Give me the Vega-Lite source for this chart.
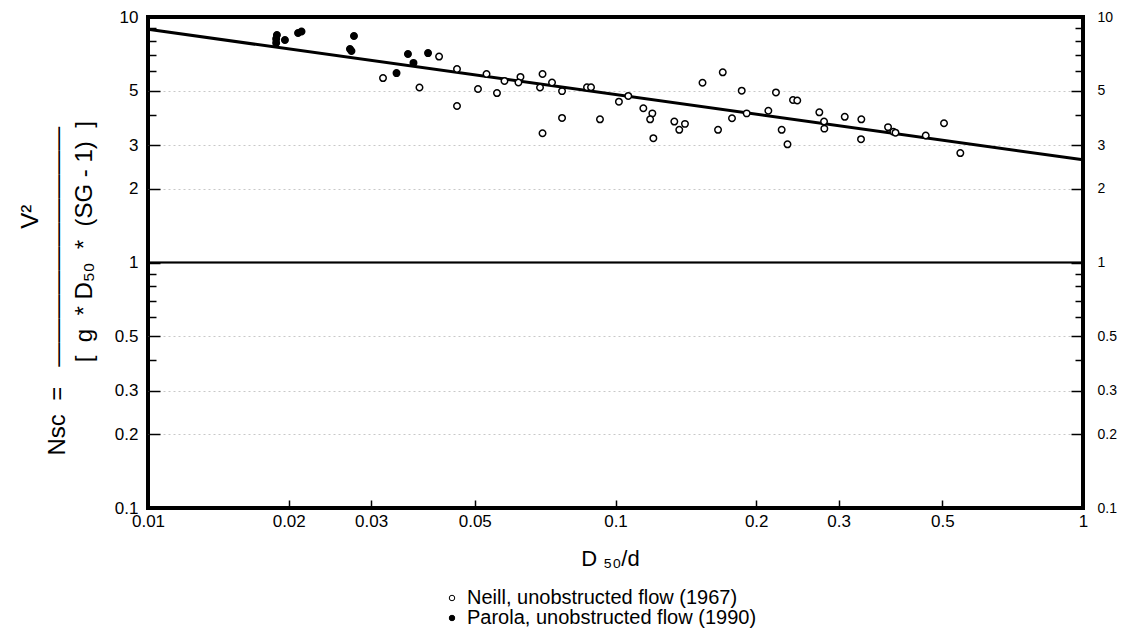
{
  "$schema": "https://vega.github.io/schema/vega-lite/v6.json",
  "autosize": {"type": "none"},
  "padding": {"left": 148, "top": 17, "right": 40, "bottom": 124},
  "width": 935,
  "height": 491,
  "background": "white",
  "config": {
    "view": {"stroke": "black", "strokeWidth": 4},
    "font": "Liberation Sans",
    "axis": {"labelFont": "Liberation Sans", "titleFont": "Liberation Sans", "labelColor": "black", "titleColor": "black", "tickColor": "black", "labelFontSize": 16, "titleFontWeight": "normal", "labelFlush": false}
  },
  "datasets": {
    "pts": [
      {"x": 0.01887, "y": 8.45, "src": "Parola, unobstructed flow (1990)"},
      {"x": 0.0188, "y": 8.14, "src": "Parola, unobstructed flow (1990)"},
      {"x": 0.0188, "y": 7.84, "src": "Parola, unobstructed flow (1990)"},
      {"x": 0.01963, "y": 8.06, "src": "Parola, unobstructed flow (1990)"},
      {"x": 0.02094, "y": 8.61, "src": "Parola, unobstructed flow (1990)"},
      {"x": 0.0213, "y": 8.73, "src": "Parola, unobstructed flow (1990)"},
      {"x": 0.02758, "y": 8.37, "src": "Parola, unobstructed flow (1990)"},
      {"x": 0.02704, "y": 7.41, "src": "Parola, unobstructed flow (1990)"},
      {"x": 0.02724, "y": 7.27, "src": "Parola, unobstructed flow (1990)"},
      {"x": 0.03401, "y": 5.91, "src": "Parola, unobstructed flow (1990)"},
      {"x": 0.03598, "y": 7.07, "src": "Parola, unobstructed flow (1990)"},
      {"x": 0.03697, "y": 6.5, "src": "Parola, unobstructed flow (1990)"},
      {"x": 0.03972, "y": 7.13, "src": "Parola, unobstructed flow (1990)"},
      {"x": 0.03182, "y": 5.64, "src": "Neill, unobstructed flow (1967)"},
      {"x": 0.03808, "y": 5.16, "src": "Neill, unobstructed flow (1967)"},
      {"x": 0.04194, "y": 6.9, "src": "Neill, unobstructed flow (1967)"},
      {"x": 0.04581, "y": 6.14, "src": "Neill, unobstructed flow (1967)"},
      {"x": 0.04581, "y": 4.34, "src": "Neill, unobstructed flow (1967)"},
      {"x": 0.0508, "y": 5.09, "src": "Neill, unobstructed flow (1967)"},
      {"x": 0.05298, "y": 5.86, "src": "Neill, unobstructed flow (1967)"},
      {"x": 0.05578, "y": 4.9, "src": "Neill, unobstructed flow (1967)"},
      {"x": 0.05788, "y": 5.49, "src": "Neill, unobstructed flow (1967)"},
      {"x": 0.06262, "y": 5.7, "src": "Neill, unobstructed flow (1967)"},
      {"x": 0.062, "y": 5.41, "src": "Neill, unobstructed flow (1967)"},
      {"x": 0.06981, "y": 5.86, "src": "Neill, unobstructed flow (1967)"},
      {"x": 0.06895, "y": 5.16, "src": "Neill, unobstructed flow (1967)"},
      {"x": 0.06981, "y": 3.36, "src": "Neill, unobstructed flow (1967)"},
      {"x": 0.07315, "y": 5.41, "src": "Neill, unobstructed flow (1967)"},
      {"x": 0.07685, "y": 4.99, "src": "Neill, unobstructed flow (1967)"},
      {"x": 0.07685, "y": 3.88, "src": "Neill, unobstructed flow (1967)"},
      {"x": 0.0869, "y": 5.17, "src": "Neill, unobstructed flow (1967)"},
      {"x": 0.08864, "y": 5.17, "src": "Neill, unobstructed flow (1967)"},
      {"x": 0.09264, "y": 3.83, "src": "Neill, unobstructed flow (1967)"},
      {"x": 0.1017, "y": 4.52, "src": "Neill, unobstructed flow (1967)"},
      {"x": 0.1065, "y": 4.77, "src": "Neill, unobstructed flow (1967)"},
      {"x": 0.1147, "y": 4.25, "src": "Neill, unobstructed flow (1967)"},
      {"x": 0.1199, "y": 4.05, "src": "Neill, unobstructed flow (1967)"},
      {"x": 0.1186, "y": 3.83, "src": "Neill, unobstructed flow (1967)"},
      {"x": 0.1205, "y": 3.21, "src": "Neill, unobstructed flow (1967)"},
      {"x": 0.1336, "y": 3.75, "src": "Neill, unobstructed flow (1967)"},
      {"x": 0.1369, "y": 3.47, "src": "Neill, unobstructed flow (1967)"},
      {"x": 0.1408, "y": 3.67, "src": "Neill, unobstructed flow (1967)"},
      {"x": 0.1535, "y": 5.4, "src": "Neill, unobstructed flow (1967)"},
      {"x": 0.1696, "y": 5.95, "src": "Neill, unobstructed flow (1967)"},
      {"x": 0.1657, "y": 3.47, "src": "Neill, unobstructed flow (1967)"},
      {"x": 0.1775, "y": 3.87, "src": "Neill, unobstructed flow (1967)"},
      {"x": 0.1862, "y": 5.01, "src": "Neill, unobstructed flow (1967)"},
      {"x": 0.1908, "y": 4.05, "src": "Neill, unobstructed flow (1967)"},
      {"x": 0.2123, "y": 4.15, "src": "Neill, unobstructed flow (1967)"},
      {"x": 0.2204, "y": 4.93, "src": "Neill, unobstructed flow (1967)"},
      {"x": 0.2267, "y": 3.47, "src": "Neill, unobstructed flow (1967)"},
      {"x": 0.2333, "y": 3.03, "src": "Neill, unobstructed flow (1967)"},
      {"x": 0.2397, "y": 4.59, "src": "Neill, unobstructed flow (1967)"},
      {"x": 0.2448, "y": 4.57, "src": "Neill, unobstructed flow (1967)"},
      {"x": 0.2729, "y": 4.09, "src": "Neill, unobstructed flow (1967)"},
      {"x": 0.2793, "y": 3.75, "src": "Neill, unobstructed flow (1967)"},
      {"x": 0.2797, "y": 3.51, "src": "Neill, unobstructed flow (1967)"},
      {"x": 0.3093, "y": 3.92, "src": "Neill, unobstructed flow (1967)"},
      {"x": 0.3356, "y": 3.83, "src": "Neill, unobstructed flow (1967)"},
      {"x": 0.3351, "y": 3.18, "src": "Neill, unobstructed flow (1967)"},
      {"x": 0.3828, "y": 3.56, "src": "Neill, unobstructed flow (1967)"},
      {"x": 0.3929, "y": 3.41, "src": "Neill, unobstructed flow (1967)"},
      {"x": 0.3971, "y": 3.38, "src": "Neill, unobstructed flow (1967)"},
      {"x": 0.4609, "y": 3.29, "src": "Neill, unobstructed flow (1967)"},
      {"x": 0.5043, "y": 3.69, "src": "Neill, unobstructed flow (1967)"},
      {"x": 0.5465, "y": 2.79, "src": "Neill, unobstructed flow (1967)"}
    ],
    "fit": [{"x": 0.01, "y": 8.91}, {"x": 1, "y": 2.62}],
    "one": [{"y": 1}]
  },
  "layer": [
    {
      "data": {"name": "one"},
      "mark": {"type": "rule", "stroke": "black", "strokeWidth": 1.5},
      "encoding": {
        "y": {"field": "y", "type": "quantitative", "scale": {"type": "log", "domain": [0.1, 10]},
          "axis": {"orient": "left", "values": [0.2, 0.3, 0.5, 2, 3, 5], "grid": true, "gridColor": "#c8c8c8", "gridDash": [2, 3], "gridWidth": 1, "ticks": false, "labels": false, "domain": false, "title": null}}
      }
    },
    {
      "data": {"name": "one"},
      "mark": {"type": "rule", "stroke": "black", "strokeWidth": 1.5},
      "encoding": {
        "y": {"field": "y", "type": "quantitative", "scale": {"type": "log", "domain": [0.1, 10]},
          "axis": {"orient": "left", "values": [0.4, 0.6, 0.7, 0.8, 0.9, 4, 6, 7, 8, 9], "grid": false, "ticks": true, "tickSize": -8, "tickWidth": 1.5, "labels": false, "domain": false, "title": null}}
      }
    },
    {
      "data": {"name": "one"},
      "mark": {"type": "rule", "stroke": "black", "strokeWidth": 1.5},
      "encoding": {
        "y": {"field": "y", "type": "quantitative", "scale": {"type": "log", "domain": [0.1, 10]},
          "axis": {"orient": "right", "values": [0.4, 0.6, 0.7, 0.8, 0.9, 4, 6, 7, 8, 9], "grid": false, "ticks": true, "tickSize": -8, "tickWidth": 1.5, "labels": false, "domain": false, "title": null}}
      }
    },
    {
      "data": {"name": "fit"},
      "mark": {"type": "line", "stroke": "black", "strokeWidth": 3},
      "encoding": {
        "x": {"field": "x", "type": "quantitative", "scale": {"type": "log", "domain": [0.01, 1]},
          "axis": {"orient": "bottom", "values": [0.01, 0.02, 0.03, 0.05, 0.1, 0.2, 0.3, 0.5, 1], "format": "~g", "grid": false, "tickSize": -8, "tickWidth": 1.5, "labelPadding": 13, "labelFontSize": 17, "labelFlush": false, "domain": false,
            "title": "D \u2085\u2080/d", "titleFontSize": 22, "titleX": 462, "titleY": 57, "titleAlign": "center", "titleBaseline": "alphabetic"}},
        "y": {"field": "y", "type": "quantitative", "scale": {"type": "log", "domain": [0.1, 10]},
          "axis": {"orient": "right", "values": [0.1, 0.2, 0.3, 0.5, 1, 2, 3, 5, 10], "format": "~g", "grid": false, "tickSize": -12, "tickWidth": 1.5, "labelPadding": 26, "labelFontSize": 14, "labelFlush": false, "domain": false, "title": null}}
      }
    },
    {
      "data": {"name": "pts"},
      "mark": {"type": "point", "shape": "circle", "size": 42, "stroke": "black", "strokeWidth": 1.5, "opacity": 1},
      "encoding": {
        "x": {"field": "x", "type": "quantitative", "scale": {"type": "log", "domain": [0.01, 1]},
          "axis": {"orient": "bottom", "values": [0.01, 0.02, 0.03, 0.05, 0.1, 0.2, 0.3, 0.5, 1], "format": "~g", "grid": false, "tickSize": -8, "tickWidth": 1.5, "labelPadding": 13, "labelFontSize": 17, "labelFlush": false, "domain": false,
            "title": "D \u2085\u2080/d", "titleFontSize": 22, "titleX": 462, "titleY": 57, "titleAlign": "center", "titleBaseline": "alphabetic"}},
        "y": {"field": "y", "type": "quantitative", "scale": {"type": "log", "domain": [0.1, 10]},
          "axis": {"orient": "left", "values": [0.1, 0.2, 0.3, 0.5, 1, 2, 3, 5, 10], "format": "~g", "grid": false, "tickSize": -12, "tickWidth": 1.5, "labelPadding": 22, "labelFontSize": 17, "labelFlush": false, "domain": false,
            "title": [
              "\u200b\u00a0\u00a0\u00a0\u00a0\u00a0\u00a0\u00a0\u00a0\u00a0\u00a0\u00a0\u00a0\u00a0\u00a0\u00a0\u00a0\u00a0\u00a0\u00a0\u00a0\u00a0\u00a0\u00a0\u00a0\u00a0\u00a0\u00a0\u00a0\u00a0\u00a0\u00a0\u00a0\u00a0\u00a0V\u00b2",
              "Nsc\u00a0\u00a0=\u00a0\u00a0\u00a0\u2014\u2014\u2014\u2014\u2014\u2014\u2014\u2014\u2014\u2014",
              "\u200b\u00a0\u00a0\u00a0\u00a0\u00a0\u00a0\u00a0\u00a0\u00a0\u00a0\u00a0\u00a0\u00a0\u00a0[\u00a0 g \u00a0* D\u2085\u2080 \u00a0* \u00a0(SG - 1) \u00a0]"
            ],
            "titleFontSize": 24, "titleAngle": -90, "titleAlign": "left", "titleBaseline": "top", "titleLineHeight": 27, "titleX": -130, "titleY": 438}},
        "fill": {"field": "src", "type": "nominal",
          "scale": {"domain": ["Neill, unobstructed flow (1967)", "Parola, unobstructed flow (1990)"], "range": ["white", "black"]},
          "legend": {"orient": "none", "legendX": 294, "legendY": 571, "title": null, "padding": 0, "labelFont": "Liberation Sans", "labelFontSize": 20, "labelColor": "black", "labelLimit": 0, "symbolType": "circle", "symbolSize": 30, "symbolStrokeColor": "black", "symbolStrokeWidth": 1, "rowPadding": -2, "labelOffset": 5}}
      }
    }
  ],
  "resolve": {"axis": {"y": "independent"}}
}
